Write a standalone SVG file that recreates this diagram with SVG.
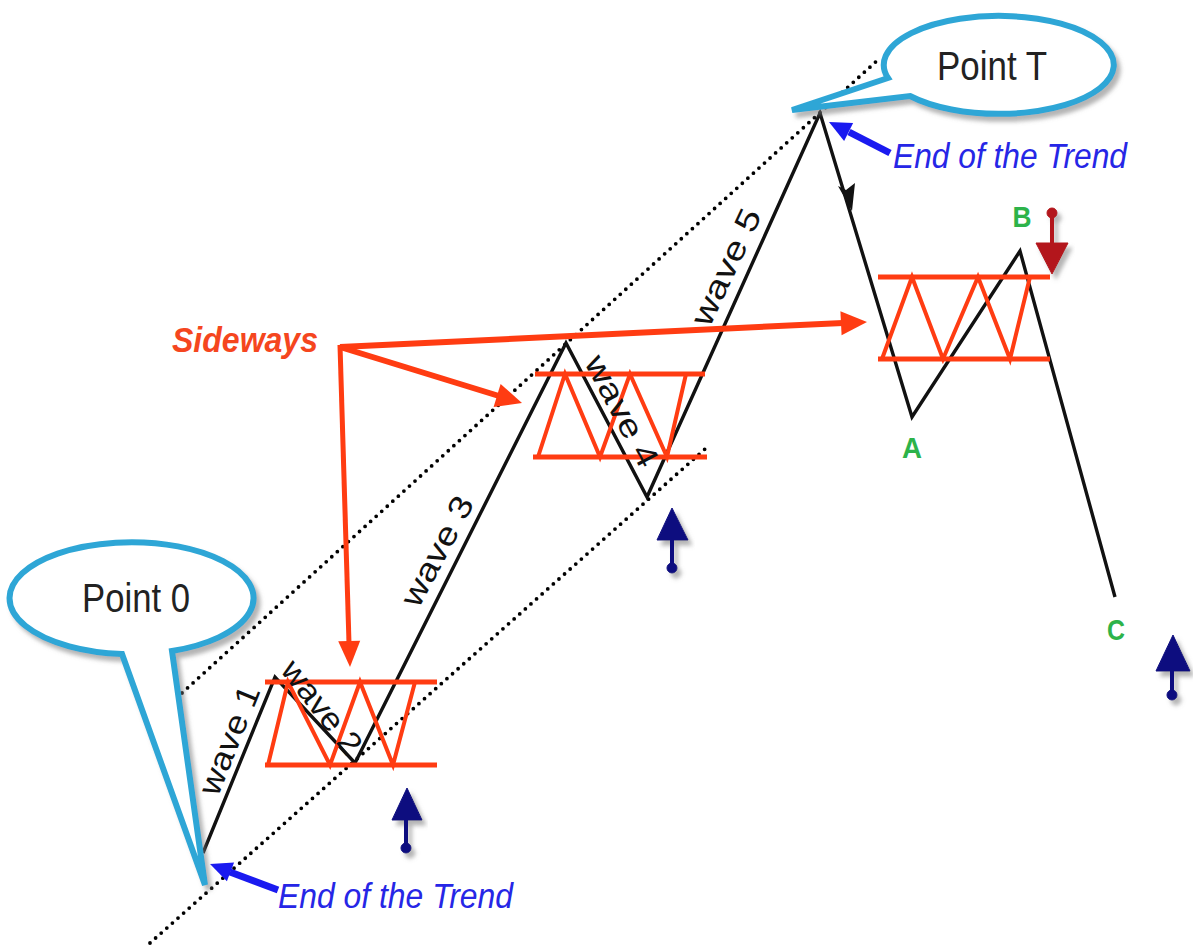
<svg xmlns="http://www.w3.org/2000/svg" width="1193" height="947" viewBox="0 0 1193 947">
<defs>
<filter id="sh" x="-20%" y="-20%" width="140%" height="140%"><feDropShadow dx="4" dy="5" stdDeviation="2" flood-color="#777" flood-opacity="0.55"/></filter>
<style>
.dot{fill:none;stroke:#000;stroke-width:3.8;stroke-linecap:round;stroke-dasharray:0 7.5}
.price{fill:none;stroke:#111;stroke-width:3.4;stroke-linejoin:miter}
.box{fill:none;stroke:#FF3C12;stroke-width:5}
.zig{fill:none;stroke:#FF3C12;stroke-width:4;stroke-linejoin:miter}
.red{stroke:#FF3C12;fill:none;stroke-linecap:butt}
.redh{fill:#FF3C12}
.bubble{fill:#fff;stroke:#2EA6D6;stroke-width:6;stroke-linejoin:miter}
.pt{font-family:"Liberation Sans",Arial,sans-serif;font-size:41px;fill:#222}
.wave{font-family:"Liberation Sans",Arial,sans-serif;font-size:32px;fill:#111}
.end{font-family:"Liberation Sans",Arial,sans-serif;font-size:35px;font-style:italic;fill:#2626E6}
.endarr{fill:#1A1AF0}
.side{font-family:"Liberation Sans",Arial,sans-serif;font-size:35px;font-style:italic;font-weight:bold;fill:#F5461E}
.abc{font-family:"Liberation Sans",Arial,sans-serif;font-size:30px;font-weight:bold;fill:#2DB34A}
.navy{fill:#10107F;stroke:#10107F}
.dred{fill:#B3151B;stroke:#B3151B}
</style>
</defs>
<rect width="1193" height="947" fill="#fff"/>

<g id="channel">
<line class="dot" x1="182" y1="693" x2="880" y2="58"/>
<line class="dot" x1="150" y1="943" x2="705" y2="449"/>
</g>

<g id="price">
<polyline class="price" points="203,853 275,677 355,763 566,343 647,497 820,113 912,417 1020,251 1115,597"/>
<path d="M852,211 L838,186 L846,190 L855,183 Z" fill="#111"/>
</g>

<g id="sideways-boxes">
<g id="box1">
<line class="box" x1="265" y1="682" x2="437" y2="682"/>
<line class="box" x1="265" y1="765" x2="437" y2="765"/>
<polyline class="zig" points="268,765 288,682 330,765 360,682 393,765 415,682"/>
</g>
<g id="box2">
<line class="box" x1="535" y1="374" x2="705" y2="374"/>
<line class="box" x1="533" y1="457" x2="707" y2="457"/>
<polyline class="zig" points="538,457 565,374 600,457 630,374 667,457 686,374"/>
</g>
<g id="box3">
<line class="box" x1="878" y1="277" x2="1050" y2="277"/>
<line class="box" x1="878" y1="359" x2="1050" y2="359"/>
<polyline class="zig" points="882,359 912,277 943,359 978,277 1010,359 1030,277"/>
</g>
</g>

<g id="wave-labels">
<text class="wave" text-anchor="middle" dominant-baseline="central" textLength="115" lengthAdjust="spacingAndGlyphs" transform="translate(229,740) rotate(-68)">wave 1</text>
<text class="wave" text-anchor="middle" dominant-baseline="central" textLength="110" lengthAdjust="spacingAndGlyphs" transform="translate(322,707) rotate(52)">wave 2</text>
<text class="wave" text-anchor="middle" dominant-baseline="central" textLength="120" lengthAdjust="spacingAndGlyphs" transform="translate(437,551) rotate(-62)">wave 3</text>
<text class="wave" text-anchor="middle" dominant-baseline="central" textLength="122" lengthAdjust="spacingAndGlyphs" transform="translate(622,411) rotate(62)">wave 4</text>
<text class="wave" text-anchor="middle" dominant-baseline="central" textLength="125" lengthAdjust="spacingAndGlyphs" transform="translate(726,267) rotate(-65)">wave 5</text>
</g>

<g id="connectors">
<line class="red" stroke-width="6" x1="340" y1="347" x2="843" y2="323"/>
<polygon class="redh" points="867,322 841.6,335.2 840.4,311.2"/>
<line class="red" stroke-width="6" x1="340" y1="347" x2="499" y2="396"/>
<polygon class="redh" points="522,403 493.6,406.9 500.6,383.9"/>
<line class="red" stroke-width="5" x1="340" y1="345" x2="349" y2="643"/>
<polygon class="redh" points="350,667 338.2,641.3 360.2,640.7"/>
<line stroke="#1A1AF0" stroke-width="7" x1="278" y1="890" x2="230" y2="872"/>
<polygon class="endarr" points="210,864 234.1,862.6 226.9,881.2"/>
<line stroke="#1A1AF0" stroke-width="7" x1="890" y1="153" x2="849" y2="132"/>
<polygon class="endarr" points="829,122 853.1,123.1 844.1,140.9"/>
</g>

<g id="sideways-label">
<text class="side" x="172" y="352" textLength="146" lengthAdjust="spacingAndGlyphs">Sideways</text>
</g>

<g id="point-0">
<path class="bubble" filter="url(#sh)" d="M172,651 L205,885 L122,654 A122,56 0 1 1 172,651 Z"/>
<text class="pt" x="136" y="612" text-anchor="middle" textLength="108" lengthAdjust="spacingAndGlyphs">Point 0</text>
</g>

<g id="point-t">
<path class="bubble" filter="url(#sh)" d="M888,78 L792,110 L910,96 A115,49 0 1 0 888,78 Z"/>
<text class="pt" x="992" y="80" text-anchor="middle" textLength="110" lengthAdjust="spacingAndGlyphs">Point T</text>
</g>

<g id="end-labels">
<text class="end" x="278" y="908" textLength="235" lengthAdjust="spacingAndGlyphs">End of the Trend</text>
<text class="end" x="893" y="168" textLength="234" lengthAdjust="spacingAndGlyphs">End of the Trend</text>
</g>

<g id="abc-labels">
<text class="abc" x="912" y="458" text-anchor="middle" textLength="20" lengthAdjust="spacingAndGlyphs">A</text>
<text class="abc" x="1022" y="227" text-anchor="middle" textLength="19" lengthAdjust="spacingAndGlyphs">B</text>
<text class="abc" x="1116" y="640" text-anchor="middle" textLength="18" lengthAdjust="spacingAndGlyphs">C</text>
</g>

<g id="up-arrow-1" filter="url(#sh)">
<polygon class="navy" points="407,788 392,820 422,820"/>
<line class="navy" stroke-width="4" x1="406" y1="818" x2="406" y2="846"/>
<circle class="navy" cx="406" cy="848" r="5"/>
</g>
<g id="up-arrow-2" filter="url(#sh)">
<polygon class="navy" points="672,508 657,540 688,540"/>
<line class="navy" stroke-width="4" x1="672" y1="538" x2="672" y2="566"/>
<circle class="navy" cx="672" cy="568" r="5"/>
</g>
<g id="up-arrow-3" filter="url(#sh)">
<polygon class="navy" points="1173,635 1156,671 1190,671"/>
<line class="navy" stroke-width="4" x1="1172" y1="669" x2="1172" y2="693"/>
<circle class="navy" cx="1172" cy="695" r="5"/>
</g>
<g id="down-arrow" filter="url(#sh)">
<circle class="dred" cx="1052" cy="213" r="5"/>
<line class="dred" stroke-width="4" x1="1052" y1="213" x2="1052" y2="245"/>
<polygon class="dred" points="1052,274 1036,243 1068,243"/>
</g>
</svg>
